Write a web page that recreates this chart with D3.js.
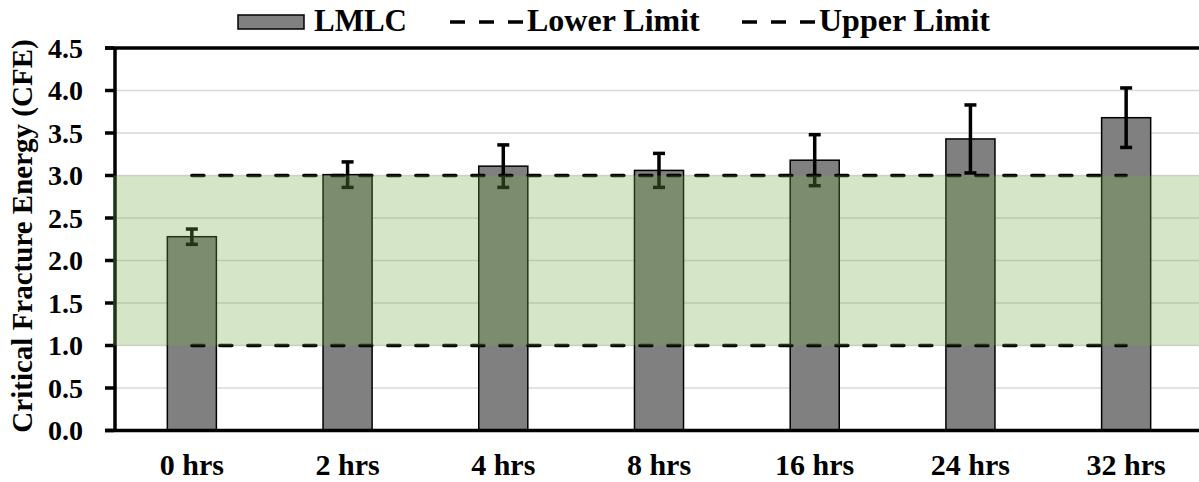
<!DOCTYPE html>
<html>
<head>
<meta charset="utf-8">
<script src="https://cdn.jsdelivr.net/npm/d3@7"></script>
<style>
  body { margin: 0; background: #fff; }
</style>
</head>
<body>
<div id="chart"></div>
<script>
// chart data
const categories = ['0 hrs', '2 hrs', '4 hrs', '8 hrs', '16 hrs', '24 hrs', '32 hrs'];
const cfeValues = [2.28, 3.01, 3.11, 3.06, 3.18, 3.43, 3.68];
const cfeErrors = [0.09, 0.15, 0.25, 0.20, 0.30, 0.40, 0.35];
const lowerLimit = [1, 1, 1, 1, 1, 1, 1];
const upperLimit = [3, 3, 3, 3, 3, 3, 3];
const yTicks = [0, 0.5, 1, 1.5, 2, 2.5, 3, 3.5, 4, 4.5];

const W = 1199, H = 482;
const plotL = 114, plotR = 1204, plotT = 48, plotB = 430.5;

const svg = d3.select('#chart').append('svg')
  .attr('width', W)
  .attr('height', H)
  .attr('viewBox', [0, 0, W, H])
  .attr('font-family', 'Liberation Serif')
  .attr('font-weight', 'bold');

const x = d3.scaleBand().domain(categories).range([plotL, plotR])
  .paddingInner(0.685).paddingOuter(0.3425);
const y = d3.scaleLinear().domain([0, 4.5]).range([plotB, plotT]);

// gridlines
svg.append('g')
  .selectAll('line')
  .data(yTicks.filter(t => t > 0 && t < 4.5))
  .join('line')
  .attr('x1', plotL).attr('x2', W)
  .attr('y1', d => y(d)).attr('y2', d => y(d))
  .attr('stroke', '#d9d9d9').attr('stroke-width', 1.5);

// bars
svg.append('g')
  .selectAll('rect')
  .data(categories)
  .join('rect')
  .attr('x', d => x(d))
  .attr('y', (d, i) => y(cfeValues[i]))
  .attr('width', x.bandwidth())
  .attr('height', (d, i) => y(0) - y(cfeValues[i]))
  .attr('fill', '#808080')
  .attr('stroke', '#000')
  .attr('stroke-width', 1.5);

// error bars
const cx = d => x(d) + x.bandwidth() / 2;
const err = svg.append('g').attr('stroke', '#000').attr('stroke-width', 3.5);
categories.forEach((c, i) => {
  const hi = y(cfeValues[i] + cfeErrors[i]);
  const lo = y(cfeValues[i] - cfeErrors[i]);
  err.append('line').attr('x1', cx(c)).attr('x2', cx(c)).attr('y1', hi).attr('y2', lo);
  err.append('line').attr('x1', cx(c) - 6).attr('x2', cx(c) + 6).attr('y1', hi).attr('y2', hi);
  err.append('line').attr('x1', cx(c) - 6).attr('x2', cx(c) + 6).attr('y1', lo).attr('y2', lo);
});

// limit lines
const limitLine = d3.line()
  .x((d, i) => cx(categories[i]))
  .y(d => y(d));
[lowerLimit, upperLimit].forEach(series => {
  svg.append('path')
    .attr('d', limitLine(series))
    .attr('fill', 'none')
    .attr('stroke', '#000')
    .attr('stroke-width', 3.5)
    .attr('stroke-linecap', 'round')
    .attr('stroke-dasharray', '12,16');
});

// axes
const axis = svg.append('g').attr('stroke', '#000').attr('stroke-width', 3.5);
axis.append('line').attr('x1', plotL + 1).attr('x2', plotL + 1).attr('y1', plotT).attr('y2', plotB + 1.5);
axis.append('line').attr('x1', plotL - 9).attr('x2', W).attr('y1', plotB).attr('y2', plotB);
axis.append('line').attr('x1', plotL - 9).attr('x2', W).attr('y1', plotT).attr('y2', plotT);
axis.selectAll('line.tick')
  .data(yTicks)
  .join('line')
  .attr('class', 'tick')
  .attr('x1', plotL - 9).attr('x2', plotL)
  .attr('y1', d => y(d)).attr('y2', d => y(d));

// acceptable band overlay
svg.append('rect')
  .attr('x', plotL - 1)
  .attr('y', y(upperLimit[0]))
  .attr('width', W - plotL + 1)
  .attr('height', y(lowerLimit[0]) - y(upperLimit[0]))
  .attr('fill', '#70ad47')
  .attr('fill-opacity', 0.3);

// tick labels
svg.append('g')
  .selectAll('text')
  .data(yTicks)
  .join('text')
  .attr('x', 83)
  .attr('y', d => y(d))
  .attr('dy', '0.34em')
  .attr('text-anchor', 'end')
  .attr('font-size', 28)
  .text(d => d.toFixed(1));

svg.append('g')
  .selectAll('text')
  .data(categories)
  .join('text')
  .attr('x', d => cx(d))
  .attr('y', 475)
  .attr('text-anchor', 'middle')
  .attr('font-size', 30)
  .text(d => d);

// y title
svg.append('text')
  .attr('transform', 'translate(32,236) rotate(-90)')
  .attr('text-anchor', 'middle')
  .attr('font-size', 29)
  .text('Critical Fracture Energy (CFE)');

// legend
const lg = svg.append('g');
lg.append('rect').attr('x', 238).attr('y', 15).attr('width', 66).attr('height', 14)
  .attr('fill', '#808080').attr('stroke', '#000').attr('stroke-width', 1.5);
lg.append('text').attr('x', 314).attr('y', 31).attr('font-size', 31).text('LMLC');
[[450, 'Lower Limit'], [742, 'Upper Limit']].forEach(([lx, label]) => {
  lg.append('line').attr('x1', lx).attr('x2', lx + 73).attr('y1', 22).attr('y2', 22)
    .attr('stroke', '#000').attr('stroke-width', 3.5)
    .attr('stroke-dasharray', '15,14');
  lg.append('text').attr('x', lx + 77).attr('y', 31).attr('font-size', 32).text(label);
});
</script>
</body>
</html>
